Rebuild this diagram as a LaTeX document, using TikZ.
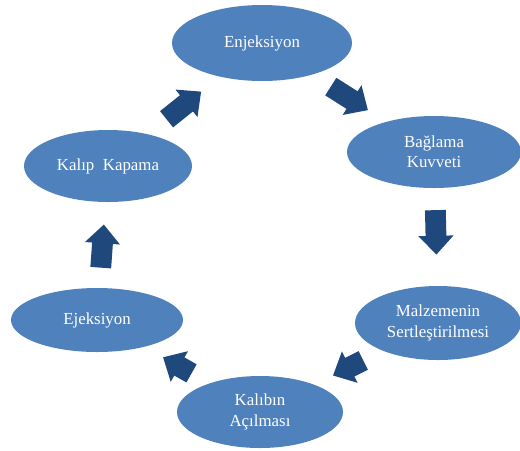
\documentclass[tikz,border=0pt]{standalone}
\usepackage{fontspec}
\setmainfont{Liberation Serif}
\newfontfamily\phasefont{Liberation Serif}
\usetikzlibrary{shapes.geometric, arrows.meta, calc, positioning}
\definecolor{phaseblue}{HTML}{4F81BD}
\definecolor{flowblue}{HTML}{1F497D}

\begin{document}
\begin{tikzpicture}[
    phase/.style={ellipse, fill=phaseblue, text=white, align=center, inner sep=0pt,
      font=\phasefont\fontsize{12}{14.5}\selectfont},
    flow/.style={color=flowblue, line width=0.52cm, -{Triangle[length=0.47cm, width=0.85cm]}},
    on grid]
    \useasboundingbox (0,0) rectangle (13,-11.25);

    \node[phase, minimum width=4.5cm, minimum height=1.9cm] (enj) at (6.55,-1.075) {Enjeksiyon};
    \node[phase, minimum width=4.35cm, minimum height=1.8cm] [below right=2.725cm and 4.3cm of enj] (bag) {Bağlama\\Kuvveti};
    \node[phase, minimum width=4.15cm, minimum height=1.85cm] [below right=4.275cm and 0.1cm of bag] (malz) {Malzemenin\\Sertleştirilmesi};
    \node[phase, minimum width=4.15cm, minimum height=1.8cm] [below left=2.225cm and 4.45cm of malz] (kal) {Kalıbın\\Açılması};
    \node[phase, minimum width=4.2cm, minimum height=1.8cm] [below left=3.075cm and 3.85cm of enj] (kap) {Kalıp\ \ Kapama};
    \node[phase, minimum width=4.3cm, minimum height=1.6cm] [below left=3.85cm and 0.275cm of kap] (ej) {Ejeksiyon};

    % cycle
    \draw[flow] ($(kap)!.38!(enj)$) -- ($(kap)!.605!(enj)$);
    \draw[flow] ($(enj)!.40!(bag)$) -- ($(enj)!.616!(bag)$);
    \draw[flow] ($(bag)!.34!(malz)$) -- ($(bag)!.60!(malz)$);
    \draw[flow] ($(malz)!.42!(kal)$) -- ($(malz)!.59!(kal)$);
    \draw[flow] ($(kal)!.42!(ej)$) -- ($(kal)!.595!(ej)$);
    \draw[flow] ($(ej)!.34!(kap)$) -- ($(ej)!.62!(kap)$);
\end{tikzpicture}
\end{document}
